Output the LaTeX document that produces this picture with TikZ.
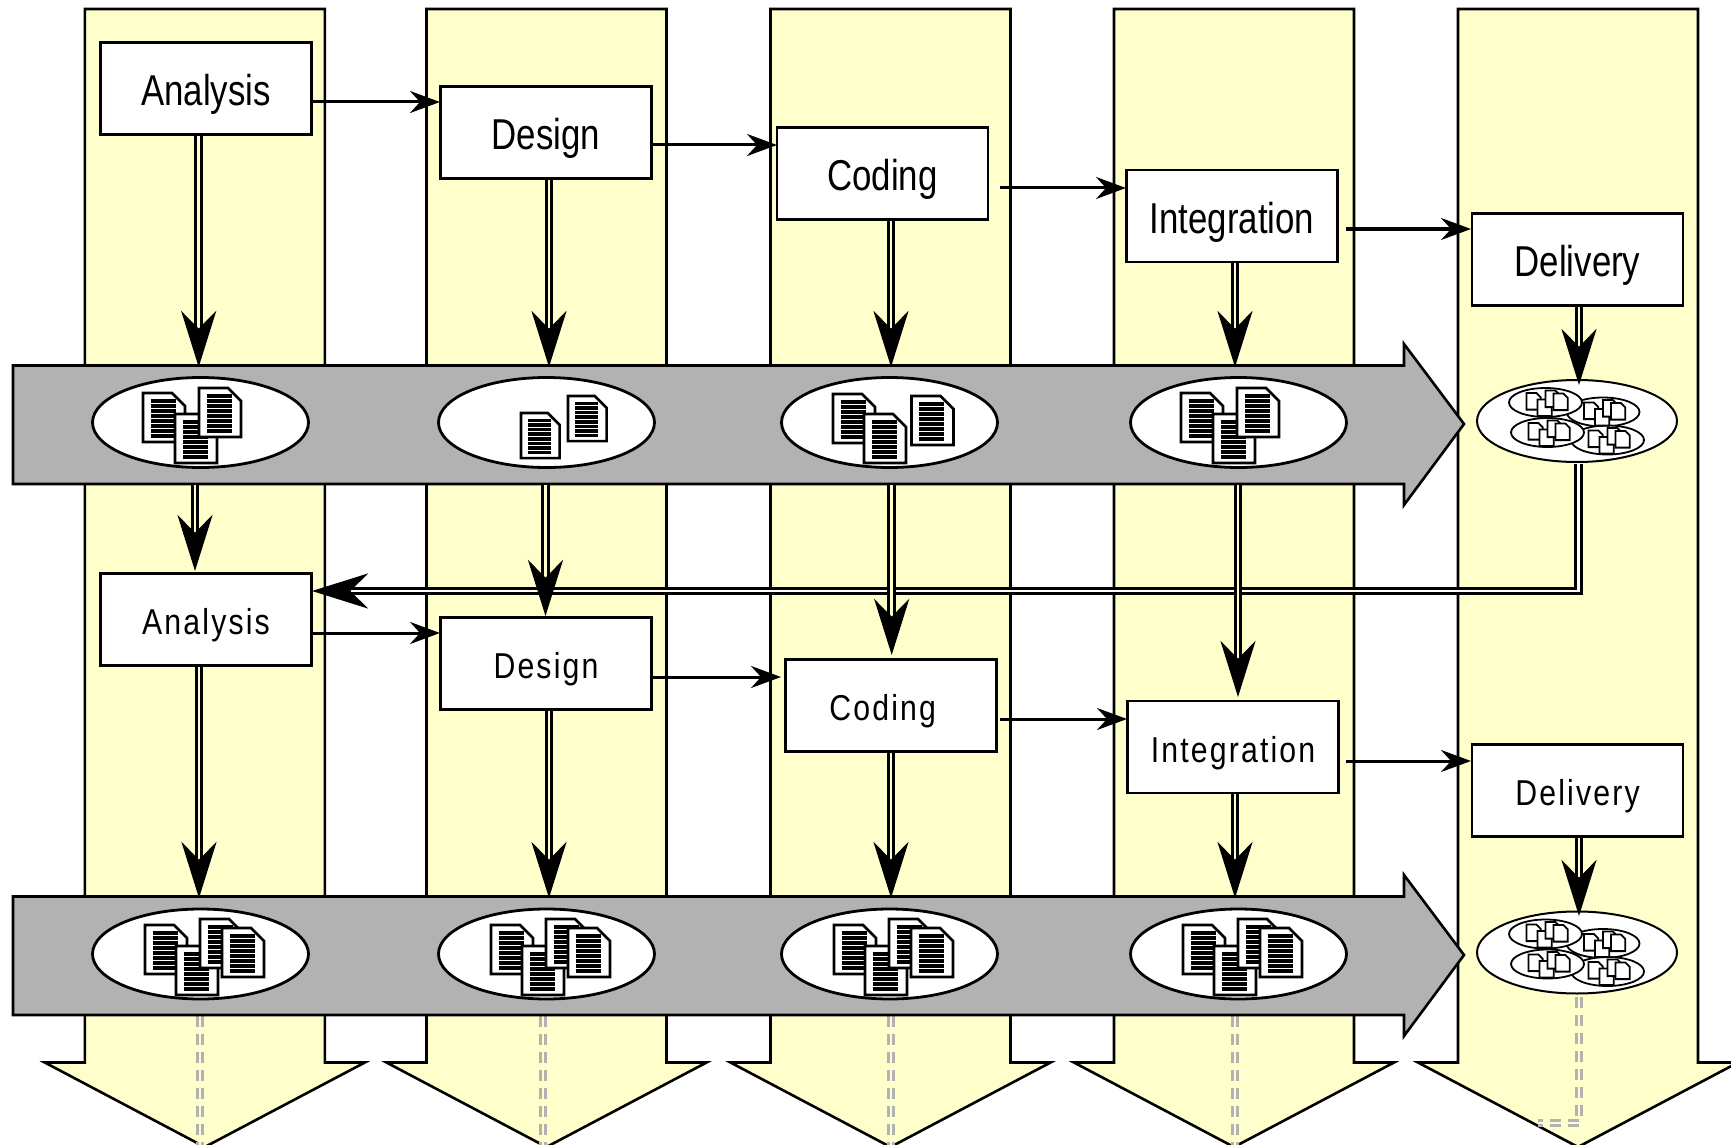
\documentclass[tikz,border=0pt]{standalone}
\usepackage{fontspec}
\usetikzlibrary{arrows.meta,shapes.geometric,calc}
\setmainfont{Liberation Sans}
\newfontfamily\boxfonta{Liberation Sans}[FakeStretch=0.806]
\newfontfamily\boxfontb{Liberation Sans}[FakeStretch=0.84,LetterSpace=6]
\definecolor{pale}{HTML}{FFFFCC}
\definecolor{bandgray}{HTML}{B2B2B2}
\tikzset{
  colshape/.style={draw=black,fill=pale,line width=1.3pt,line join=miter},
  bandshape/.style={draw=black,fill=bandgray,line width=1.3pt,line join=miter},
  taskbox/.style={draw=black,fill=white,line width=1.3pt,rectangle,inner sep=0pt,minimum width=105.5pt,minimum height=46pt,text depth=0pt},
  rowa/.style={taskbox,font=\boxfonta\fontsize{21.6pt}{24pt}\selectfont,text height=17.5pt},
  rowb/.style={taskbox,font=\boxfontb\fontsize{18pt}{20pt}\selectfont,text height=15.2pt},
  thinarrow/.style={line width=1.5pt,-{Stealth[length=15pt,width=11pt,inset=5pt]}},
  dblarrow/.style={line width=1.55pt,double=pale,double distance=1.35pt,-{Stealth[length=28pt,width=17.5pt,inset=8.8pt]}},
  fbarrow/.style={line width=1.55pt,double=white,double distance=1.35pt,line join=miter,-{Stealth[length=28pt,width=17.5pt,inset=8.8pt]}},
  dashdbl/.style={draw=bandgray,line width=1.5pt,double=pale,double distance=1pt,dash pattern=on 5.5pt off 3.5pt},
  docell/.style={ellipse,draw=black,fill=white,line width=1.4pt,inner sep=0pt,minimum width=108pt,minimum height=45pt},
  delell/.style={ellipse,draw=black,fill=white,line width=1pt,inner sep=0pt,minimum width=100pt,minimum height=41pt},
  miniell/.style={ellipse,draw=black,fill=white,line width=.9pt,inner sep=0pt,minimum width=36.5pt,minimum height=14.5pt},
  page/.pic={
    \draw[fill=white,line width=1.3pt,line join=miter] (0,0)--(29,0)--(42,13)--(42,49)--(0,49)--cycle;
    \foreach \k in {0,...,7}{\draw[line width=1.8pt] (7.5,8+5*\k)--(32.5,8+5*\k);}
  },
  blankpage/.pic={
    \draw[fill=white,line width=.95pt,line join=miter] (0,0)--(29,0)--(42,13)--(42,49)--(0,49)--cycle;
  }
}
\begin{document}
\begin{tikzpicture}[x=0.5pt,y=-0.5pt]
\useasboundingbox (0,0) rectangle (1731,1145);
\clip (0,0) rectangle (1731,1145);
\fill[white] (0,0) rectangle (1731,1145);
% columns
\foreach \c in {204.8,546.5,890.5,1234,1578}{
  \draw[colshape] (\c-120,9)--(\c+120,9)--(\c+120,1062.5)--(\c+160,1062.5)--(\c,1147)--(\c-160,1062.5)--(\c-120,1062.5)--cycle;
}
% dashed traces
\coordinate (e1) at (200,1146);
\coordinate (e2) at (543,1146);
\coordinate (e3) at (891,1146);
\coordinate (e4) at (1235,1146);
\coordinate (e5a) at (1579,1122.5);
\coordinate (e5b) at (1538,1122.5);
\foreach \n in {1,2,3,4}{\draw[dashdbl] (e\n |- 0,1016)--(e\n);}
% bands
\foreach \t in {0,531}{
  \draw[bandshape] (13,365.5+\t)--(1404,365.5+\t)--(1404,344+\t)--(1464,424+\t)--(1404,505+\t)--(1404,484+\t)--(13,484+\t)--cycle;
}
% document ellipses
\foreach \n/\cx in {1/200.5,2/546.5,3/889.5,4/1238.5}{
  \node[docell] (up\n) at (\cx,422.5) {};
  \node[docell] (dn\n) at (\cx,954) {};
}
\pic at ($(up1)+(-57.5,-29.5)$) {page};
\pic at ($(up1)+(-25.5,-8.5)$) {page};
\pic at ($(up1)+(-1.5,-34.5)$) {page};
\pic[scale=.92] at ($(up2)+(-25.5,-9.5)$) {page};
\pic[scale=.92] at ($(up2)+(21.5,-26.5)$) {page};
\pic at ($(up3)+(-56.5,-28.5)$) {page};
\pic at ($(up3)+(22,-26.5)$) {page};
\pic at ($(up3)+(-25.5,-8.5)$) {page};
\pic at ($(up4)+(-57.5,-29.5)$) {page};
\pic at ($(up4)+(-25.5,-8.5)$) {page};
\pic at ($(up4)+(-1.5,-34.5)$) {page};
\foreach \n in {1,2,3,4}{
  \pic at ($(dn\n)+(-55.5,-29)$) {page};
  \pic at ($(dn\n)+(-24.5,-8)$) {page};
  \pic at ($(dn\n)+(-0.5,-35)$) {page};
  \pic at ($(dn\n)+(21.5,-26)$) {page};
}
% delivery clusters
\foreach \r/\cy in {u/421,d/952.5}{
  \node[delell] (big\r) at (1577,\cy) {};
  \node[miniell] (m\r b) at ($(big\r)+(26,-9)$) {};
  \node[miniell] (m\r d) at ($(big\r)+(30.5,19)$) {};
  \node[miniell] (m\r a) at ($(big\r)+(-31.5,-18.5)$) {};
  \node[miniell] (m\r c) at ($(big\r)+(-29.5,11.5)$) {};
  \foreach \q in {a,b,c,d}{
    \pic[scale=.34] at ($(m\r\q)+(-19,-9.5)$) {blankpage};
    \pic[scale=.34] at ($(m\r\q)+(-8,-3)$) {blankpage};
    \pic[scale=.34] at ($(m\r\q)+(0,-12)$) {blankpage};
    \pic[scale=.34] at ($(m\r\q)+(8,-9)$) {blankpage};
  }
}
% task boxes
\node[rowa] (a1) at (206,88.5) {Analysis};
\node[rowa] (b1) at (546,132.5) {Design};
\node[rowa] (c1) at (882.5,173.5) {Coding};
\node[rowa] (i1) at (1232,216) {Integration};
\node[rowa] (l1) at (1577.5,259.5) {Delivery};
\node[rowb] (a2) at (206,619.5) {Analysis};
\node[rowb] (b2) at (546,663.5) {Design};
\node[rowb] (c2) at (891,705.5) {Coding\hspace*{8.3pt}};
\node[rowb] (i2) at (1233,747) {Integration};
\node[rowb] (l2) at (1577.5,790.5) {Delivery};
% thin arrows
\coordinate (ta1) at (440,102);
\coordinate (ta2) at (777,145);
\coordinate (sa3) at (1000,188);
\coordinate (ta3) at (1126,188);
\coordinate (sa4) at (1346,229);
\coordinate (ta4) at (1471,229);
\coordinate (tb1) at (440,633);
\coordinate (tb2) at (781,677);
\coordinate (sb3) at (1000,719);
\coordinate (tb3) at (1127,719);
\coordinate (sb4) at (1346,761);
\coordinate (tb4) at (1471,761);
\draw[thinarrow] (a1.east |- ta1)--(ta1);
\draw[thinarrow] (b1.east |- ta2)--(ta2);
\draw[thinarrow] (sa3)--(ta3);
\draw[thinarrow] (sa4)--(ta4);
\draw[thinarrow] (a2.east |- tb1)--(tb1);
\draw[thinarrow] (b2.east |- tb2)--(tb2);
\draw[thinarrow] (sb3)--(tb3);
\draw[thinarrow] (sb4)--(tb4);
% feedback
\coordinate (fbs) at (1578.5,464);
\coordinate (fbc) at (1578.5,591);
\coordinate (fbt) at (312,591);
\draw[fbarrow] (fbs)--(fbc)--(fbt);
% delivered dashed trace
\draw[dashdbl] (e5a |- 0,997)--(e5a)--(e5b);
% double arrows: task -> baseline
\foreach \k/\x/\m in {a/198.7/1,b/549/1,c/891/1,i/1235/1,a/199/2,b/549/2,c/891/2,i/1235/2}{
  \pgfmathsetmacro{\ty}{\m==1 ? 367 : 898}
  \coordinate (tip) at (\x,\ty);
  \draw[dblarrow] (\k\m.south -| tip)--(tip);
}
\coordinate (tl1) at (1579,385);
\coordinate (tl2) at (1579,916);
\draw[dblarrow] (l1.south -| tl1)--(tl1);
\draw[dblarrow] (l2.south -| tl2)--(tl2);
% double arrows: baseline -> next iteration
\coordinate (td1) at (195,571);
\coordinate (td2) at (545.5,616);
\coordinate (td3) at (891.7,655);
\coordinate (td4) at (1238,697);
\foreach \n in {1,2,3,4}{\draw[dblarrow] (td\n |- 0,484.5)--(td\n);}
\end{tikzpicture}
\end{document}
